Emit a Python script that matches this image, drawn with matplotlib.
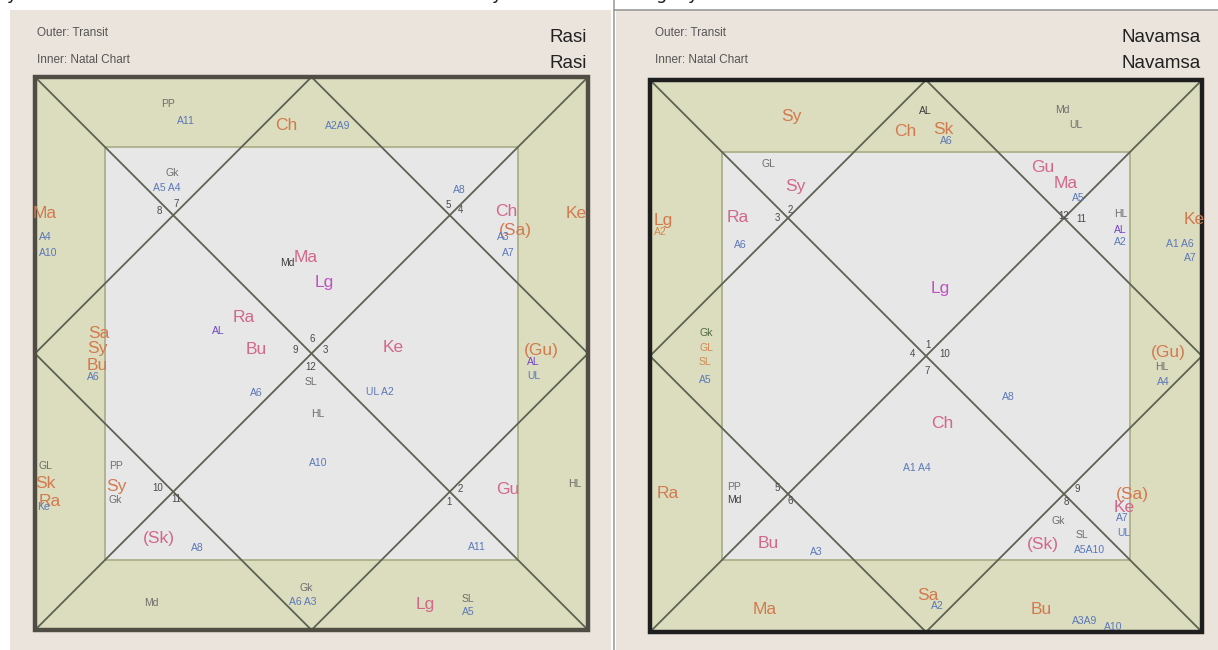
import matplotlib
matplotlib.use("Agg")
import matplotlib.pyplot as plt
from matplotlib.patches import Rectangle

# ---------------- data ----------------
# kinds: T = transit planet, N = natal planet, L = lagna, g = special point (grey),
#        b = arudha pada, p = arudha lagna, d = dark point, n = house number, s = small orange
RASI_TEXT = ["PP", "A11", "Ch", "A2A9", "Ma", "A4", "A10", "Ke", "Sa", "Sy", "Bu", "A6",
             "(Gu)", "AL", "UL", "GL", "Sk", "Ra", "Ke", "HL", "Md", "Gk", "A6 A3", "Lg",
             "SL", "A5",
             "Gk", "A5 A4", "7", "8", "A8", "5", "4", "Ch", "(Sa)", "A3", "A7", "Md", "Ma",
             "Lg", "AL", "Ra", "Bu", "6", "9", "3", "12", "SL", "Ke", "A6", "HL", "UL A2",
             "A10", "PP", "Sy", "Gk", "10", "11", "(Sk)", "A8", "2", "1", "Gu", "A11"]
RASI_KIND = ["g", "b", "T", "b", "T", "b", "b", "T", "T", "T", "T", "b",
             "T", "p", "b", "g", "T", "T", "b", "g", "g", "g", "b", "N",
             "g", "b",
             "g", "b", "n", "n", "b", "n", "n", "N", "T", "b", "b", "d", "N",
             "L", "p", "N", "N", "n", "n", "n", "n", "g", "N", "b", "g", "b",
             "b", "g", "T", "g", "n", "n", "N", "b", "n", "n", "N", "b"]

NAV_TEXT = ["Sy", "AL", "Ch", "Sk", "A6", "Md", "UL", "Lg", "A2", "Ke", "A1 A6", "A7",
            "Gk", "GL", "SL", "A5", "(Gu)", "HL", "A4", "Ra", "Ma", "Sa", "A2", "Bu",
            "A3A9", "A10",
            "GL", "Sy", "3", "2", "Ra", "A6", "Gu", "Ma", "A5", "12", "11", "HL", "AL",
            "A2", "Lg", "1", "4", "10", "7", "A8", "Ch", "A1 A4", "PP", "Md", "5", "6",
            "Bu", "A3", "9", "8", "Gk", "(Sk)", "SL", "A5A10", "(Sa)", "Ke", "A7", "UL"]
NAV_KIND = ["T", "d", "T", "T", "b", "g", "g", "T", "s", "T", "b", "b",
            "k", "s", "s", "b", "T", "g", "b", "T", "T", "T", "b", "T",
            "b", "b",
            "g", "N", "n", "n", "N", "b", "N", "N", "b", "n", "n", "g", "p",
            "b", "L", "n", "n", "n", "n", "b", "N", "b", "g", "d", "n", "n",
            "N", "b", "n", "n", "g", "N", "g", "b", "T", "N", "b", "b"]

HEADER_LEFT = ["Outer: Transit", "Inner: Natal Chart"]
TITLES = ["Rasi", "Navamsa"]

# ---------------- layout ----------------
RASI_XY = [(168, 104), (186, 121), (286, 126), (338, 126), (45, 213), (45, 237), (48, 253),
           (576, 213), (99, 333), (97, 349), (97, 365), (93, 377), (541, 350), (533, 362),
           (534, 376), (45, 466), (45, 484), (50, 502), (43, 507), (575, 484), (151, 603),
           (306, 588), (303, 602), (425, 605), (468, 599), (468, 612),
           (172, 173), (167, 188), (176, 204), (159, 211), (459, 190), (448, 205), (461, 210),
           (506, 211), (515, 231), (503, 237), (508, 253), (287, 263), (306, 257), (324, 282),
           (218, 331), (244, 318), (256, 350), (312, 339), (295, 350), (325, 350), (311, 367),
           (311, 382), (393, 348), (256, 393), (318, 414), (380, 392), (318, 463), (116, 466),
           (116, 486), (115, 500), (158, 488), (176, 499), (159, 539), (197, 548), (460, 489),
           (449, 502), (508, 489), (477, 547)]

NAV_XY = [(791, 116), (925, 111), (905, 131), (943, 130), (946, 141), (1062, 110), (1076, 125),
          (663, 221), (660, 232), (1194, 219), (1180, 244), (1190, 258), (706, 333), (706, 348),
          (705, 362), (705, 380), (1168, 353), (1162, 367), (1163, 382), (668, 493), (765, 610),
          (928, 595), (937, 606), (1041, 610), (1085, 621), (1113, 627),
          (768, 164), (795, 186), (777, 218), (790, 210), (738, 218), (740, 245), (1043, 168),
          (1066, 184), (1078, 198), (1064, 216), (1081, 219), (1121, 214), (1120, 230),
          (1120, 242), (940, 288), (928, 345), (912, 354), (945, 354), (927, 371), (1008, 397),
          (942, 424), (917, 468), (734, 487), (734, 500), (777, 488), (790, 501), (768, 543),
          (816, 552), (1077, 489), (1066, 502), (1058, 521), (1043, 544), (1082, 535),
          (1090, 550), (1132, 494), (1124, 508), (1122, 518), (1124, 533)]

STYLE = {
    "T": ("#d27a4e", 12.5),
    "N": ("#d2688a", 12.5),
    "L": ("#c052c4", 12.5),
    "g": ("#6e6e6e", 7.5),
    "b": ("#5a78b8", 7.5),
    "p": ("#7446c8", 7.5),
    "d": ("#3e3e3e", 7.5),
    "n": ("#4a4a4a", 7),
    "s": ("#d08a50", 7.5),
    "k": ("#4e6a40", 7.5),
}

FONT = ["Liberation Sans Narrow", "Liberation Sans", "DejaVu Sans"]
plt.rcParams["font.family"] = FONT

W, H = 1218, 650
fig = plt.figure(figsize=(W / 100, H / 100), dpi=100, facecolor="white")
ax = fig.add_axes([0, 0, 1, 1])
ax.set_xlim(0, W)
ax.set_ylim(H, 0)
ax.axis("off")

PANEL_BG = "#ebe4dc"
ax.add_patch(Rectangle((10, 10), 601, 640, facecolor=PANEL_BG, edgecolor="none", zorder=0))
ax.add_patch(Rectangle((616, 10), 602, 640, facecolor=PANEL_BG, edgecolor="none", zorder=0))
ax.plot([613.5, 613.5], [0, H], color="#a0a0a0", lw=1.2, zorder=1)
ax.plot([614, W], [9.5, 9.5], color="#9a9a9a", lw=1.2, zorder=1)

# descenders of cut-off text line above
for ch, x in [("y", 12), ("y", 497), ("g", 662), ("y", 693)]:
    ax.text(x, -1, ch, fontsize=13, color="#222222", ha="center", va="baseline",
            family=["DejaVu Sans"], zorder=1)


def draw_chart(x0, y0, size, inset, border_color):
    x1, y1 = x0 + size, y0 + size
    cx, cy = x0 + size / 2, y0 + size / 2
    ax.add_patch(Rectangle((x0, y0), size, size, facecolor="#dcdcbe", edgecolor="none", zorder=1))
    ax.add_patch(Rectangle((x0 + inset, y0 + inset), size - 2 * inset, size - 2 * inset,
                           facecolor="#e7e7e8", edgecolor="#a9ab82", lw=1.2, zorder=2))
    lc = "#5d6352"
    ax.plot([x0, x1], [y0, y1], color=lc, lw=1.3, zorder=3)
    ax.plot([x1, x0], [y0, y1], color=lc, lw=1.3, zorder=3)
    ax.plot([cx, x1, cx, x0, cx], [y0, cy, y1, cy, y0], color=lc, lw=1.3, zorder=3)
    ax.add_patch(Rectangle((x0, y0), size, size, facecolor="none", edgecolor=border_color,
                           lw=3.2, zorder=4))


draw_chart(35, 77, 553, 70, "#4f4d44")
draw_chart(650, 80, 552, 72, "#1e1e1e")


def header(xl, xr):
    ax.text(xl, 33, HEADER_LEFT[0], fontsize=8.5, color="#555555", ha="left", va="center", zorder=5)
    ax.text(xl, 60, HEADER_LEFT[1], fontsize=8.5, color="#555555", ha="left", va="center", zorder=5)


header(37, 588)
header(655, 1202)
ax.text(587, 37, TITLES[0], fontsize=13.5, color="#222222", ha="right", va="center", zorder=5)
ax.text(587, 64, TITLES[0], fontsize=13.5, color="#222222", ha="right", va="center", zorder=5)
ax.text(1201, 37, TITLES[1], fontsize=13.5, color="#222222", ha="right", va="center", zorder=5)
ax.text(1201, 64, TITLES[1], fontsize=13.5, color="#222222", ha="right", va="center", zorder=5)


def put_labels(texts, kinds, xy):
    for t, k, (x, y) in zip(texts, kinds, xy):
        col, fs = STYLE[k]
        ax.text(x, y, t, fontsize=fs, color=col, ha="center", va="center", zorder=6)


put_labels(RASI_TEXT, RASI_KIND, RASI_XY)
put_labels(NAV_TEXT, NAV_KIND, NAV_XY)

fig.savefig("out.png", dpi=100, facecolor="white")
